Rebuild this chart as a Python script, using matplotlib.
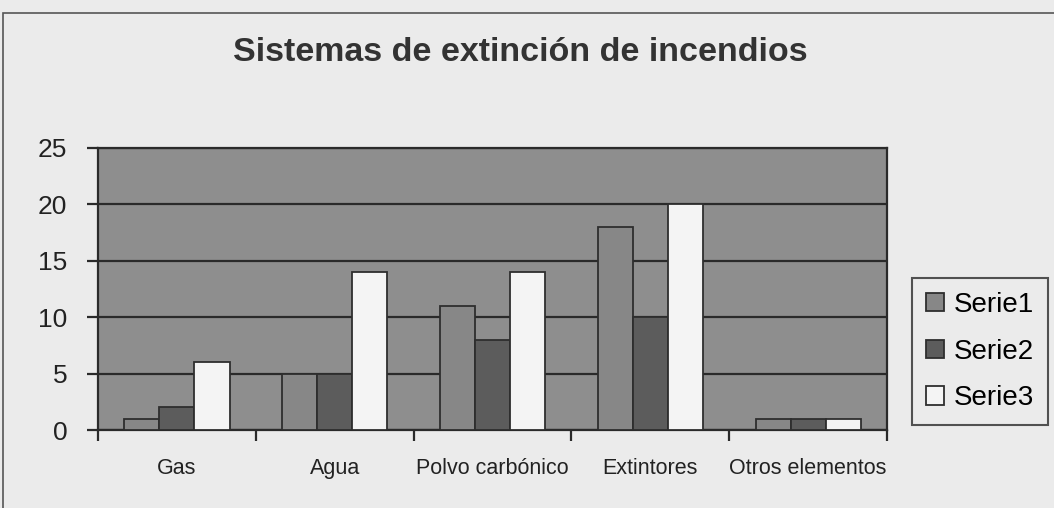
import numpy as np
import matplotlib.pyplot as plt
from matplotlib.patches import Rectangle

categorias = ['Gas', 'Agua', 'Polvo carbónico', 'Extintores', 'Otros elementos']
serie1 = [1, 5, 11, 18, 1]
serie2 = [2, 5, 8, 10, 1]
serie3 = [6, 14, 14, 20, 1]
nombres = ['Serie1', 'Serie2', 'Serie3']
colores = ['#878787', '#5c5c5c', '#f4f4f4']
yticks = [0, 5, 10, 15, 20, 25]

plt.rcParams['font.family'] = ['Liberation Sans', 'DejaVu Sans']

fig = plt.figure(figsize=(10.54, 5.08), dpi=100, facecolor='#ebebeb')
ax = fig.add_axes([0.093, 0.1535, 0.7486, 0.5552])
ax.set_facecolor('#8e8e8e')

# marco del gráfico
fig.patches.append(Rectangle((0.003, -0.1), 1.1, 1.074, transform=fig.transFigure,
                             fill=False, edgecolor='#555555', linewidth=1.2))

x = np.arange(len(categorias))
w = 1 / 4.5
for i, (vals, nom, col) in enumerate(zip([serie1, serie2, serie3], nombres, colores)):
    ax.bar(x + (i - 1) * w, vals, width=w, color=col, edgecolor='#2e2e2e',
           linewidth=1.3, label=nom, zorder=3)

ax.set_xlim(-0.5, len(categorias) - 0.5)
ax.set_ylim(0, 25)
ax.set_yticks(yticks)
ax.yaxis.grid(True, color='#2a2a2a', linewidth=1.6, zorder=1)
ax.set_axisbelow(True)
ax.tick_params(axis='y', labelsize=19, length=8, width=1.6, color='#2a2a2a',
               pad=14, labelcolor='#222222')
ax.set_xticks(x)
ax.set_xticklabels(categorias)
ax.set_xticks(np.arange(len(categorias) + 1) - 0.5, minor=True)
ax.tick_params(axis='x', which='major', length=0, labelsize=15.5, pad=20,
               labelcolor='#222222')
ax.tick_params(axis='x', which='minor', length=8, width=1.6, color='#2a2a2a')
for s in ax.spines.values():
    s.set_color('#2a2a2a')
    s.set_linewidth(1.6)

fig.text(0.494, 0.896, 'Sistemas de extinción de incendios', ha='center', va='center',
         fontsize=24.5, fontweight='bold', color='#333333')

leg = fig.legend(loc='center', bbox_to_anchor=(0.93, 0.308), fontsize=20,
                 frameon=True, fancybox=False, edgecolor='#2a2a2a',
                 facecolor='#ebebeb', handlelength=0.65, handleheight=0.65,
                 handletextpad=0.35, labelspacing=0.75, borderpad=0.5,
                 borderaxespad=0)
leg.get_frame().set_linewidth(1.5)

fig.savefig('out.png', dpi=100, facecolor=fig.get_facecolor())
